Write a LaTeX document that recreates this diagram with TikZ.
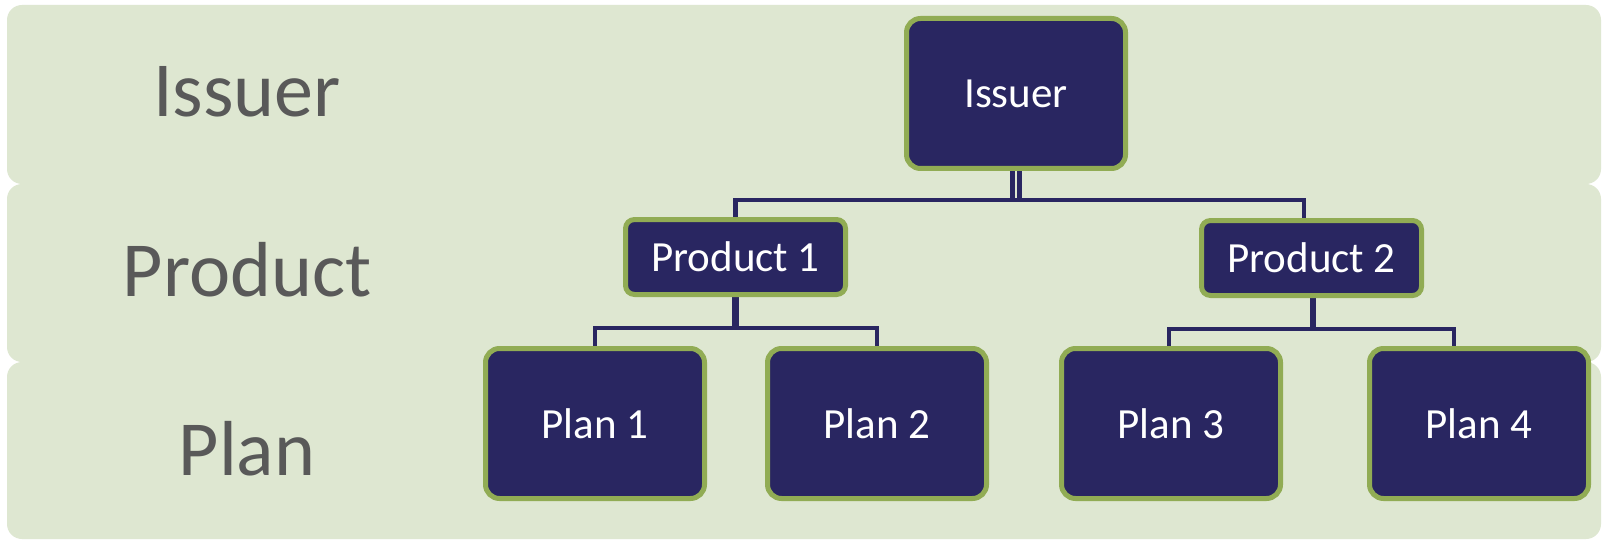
\documentclass[tikz,border=0pt]{standalone}
\usepackage{fontspec}
\setmainfont{Carlito}
\definecolor{band}{RGB}{222,231,209}
\definecolor{navy}{RGB}{41,38,97}
\definecolor{leaf}{RGB}{145,172,84}
\definecolor{labelgray}{RGB}{89,89,89}
\pgfdeclarelayer{bands}
\pgfdeclarelayer{wires}
\pgfsetlayers{bands,wires,main}
\tikzset{
  bandbox/.style={fill=band, rounded corners=15pt},
  rowlabel/.style={text=labelgray, font=\fontsize{78}{90}\selectfont, anchor=base, inner sep=0pt},
  tallbox/.style={draw=leaf, fill=navy, line width=5pt, rounded corners=14pt,
    minimum width=219pt, minimum height=150pt, inner sep=0pt, text=white,
    font=\fontsize{43}{50}\selectfont},
  flatbox/.style={draw=leaf, fill=navy, line width=5pt, rounded corners=9pt,
    minimum width=220pt, minimum height=75pt, inner sep=0pt, text=white,
    font=\fontsize{43}{50}\selectfont},
  link/.style={draw=navy, line width=4.5pt},
  stem/.style={draw=navy, line width=6.5pt},
}
\begin{document}
\begin{tikzpicture}[x=1pt,y=-1pt]
\useasboundingbox (0,0) rectangle (1602,540);
\begin{pgfonlayer}{bands}
\fill[white] (0,0) rectangle (1602,540);
\fill[bandbox] (7,5) rectangle (1601,184);
\fill[bandbox] (7,184) rectangle (1601,362);
\fill[bandbox] (7,362) rectangle (1601,539);
\end{pgfonlayer}
% row labels
\node[rowlabel] (lissuer) at (247,117) {Issuer};
\node[rowlabel] (lproduct) at (247,296) {Product};
\node[rowlabel] (lplan) at (247,475) {Plan};
% boxes
\node[tallbox] (issuer) at (1016,93.5) {Issuer};
\node[flatbox] (prod1) at (735.5,257) {Product 1};
\node[flatbox] (prod2) at (1311.5,258) {Product 2};
\node[tallbox] (plan1) at (595,423.5) {Plan 1};
\node[tallbox] (plan2) at (877,423.5) {Plan 2};
\node[tallbox] (plan3) at (1171,423.5) {Plan 3};
\node[tallbox] (plan4) at (1479,423.5) {Plan 4};
% junction coordinates
\coordinate (jtop) at (1020.5,200);
\coordinate (j1) at (736,328);
\coordinate (j2) at (1313,329);
\coordinate (p4in) at (1454,346);
\coordinate (p2in) at (1304,218);
\begin{pgfonlayer}{wires}
\draw[link] ([xshift=-3.5pt]issuer.south) -- ++(0,29);
\draw[link] ([xshift=3.5pt]issuer.south) -- ++(0,29);
\draw[link] (prod1.north) |- (jtop) -| (p2in);
\draw[stem] (prod1.south) -- (prod1.south |- j1);
\draw[link] (plan1.north) |- (j1) -| (plan2.north);
\draw[stem] ([xshift=1.5pt]prod2.south) -- (j2);
\draw[link] ([xshift=-2pt]plan3.north) |- (j2) -| (p4in);
\end{pgfonlayer}
\end{tikzpicture}
\end{document}
